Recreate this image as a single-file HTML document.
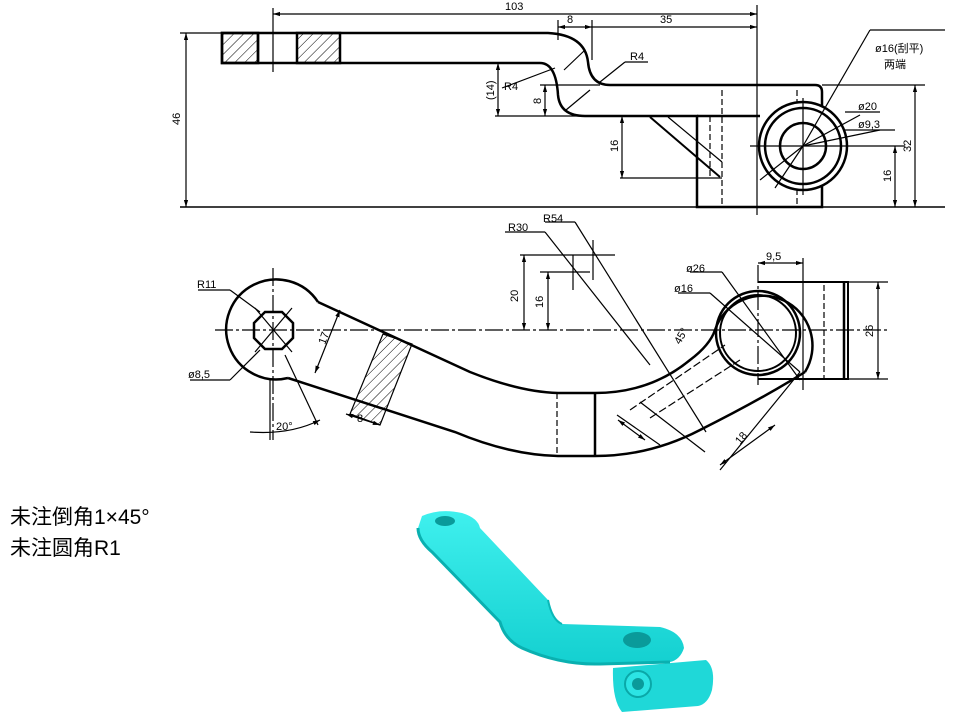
<!DOCTYPE html>
<html><head><meta charset="utf-8"><style>
html,body{margin:0;padding:0;background:#fff;width:960px;height:720px;overflow:hidden}
svg{display:block}
text{font-family:"Liberation Sans","Noto Sans CJK SC",sans-serif;fill:#000}
</style></head><body>
<svg width="960" height="720" viewBox="0 0 960 720" xmlns="http://www.w3.org/2000/svg">
<defs>
<pattern id="h" width="7" height="7" patternUnits="userSpaceOnUse" patternTransform="rotate(45)">
<line x1="0" y1="0" x2="0" y2="7" stroke="#000" stroke-width="1"/></pattern>
<marker id="a" viewBox="0 0 10 10" refX="10" refY="5" markerWidth="6" markerHeight="6" orient="auto-start-reverse"><path d="M0,2 L10,5 L0,8z" fill="#000"/></marker>
<linearGradient id="cy" x1="0" y1="0" x2="0" y2="1"><stop offset="0" stop-color="#3ff0ee"/><stop offset="1" stop-color="#14d0d0"/></linearGradient>
</defs>
<g fill="none" stroke="#000" stroke-width="1.2">
<!-- TOP VIEW -->
<rect x="222" y="33" width="36" height="30" fill="url(#h)" stroke-width="2.5"/>
<rect x="297" y="33" width="43" height="30" fill="url(#h)" stroke-width="2.5"/>
<path d="M222,33 H548 Q585,35 588,62 Q590,85 610,85 H815 Q822,85 822,92 V207 H697 V116 H585 Q560,116 558,95 Q556,63 540,63 H222 Z" stroke-width="2.5"/>
<line x1="258" y1="33" x2="258" y2="63" stroke-width="2.5"/>
<line x1="697" y1="116" x2="760" y2="116" stroke-width="2.5"/>
<line x1="650" y1="117" x2="720" y2="177" stroke-width="2"/><line x1="668" y1="117" x2="722" y2="162"/>
<line x1="710" y1="116" x2="710" y2="177" stroke-dasharray="6,3"/>
<line x1="722" y1="90" x2="722" y2="207" stroke-dasharray="6,3"/>
<line x1="797" y1="90" x2="797" y2="207" stroke-dasharray="6,3"/>
<circle cx="803" cy="146" r="44" stroke-width="2.5" fill="#fff"/>
<circle cx="803" cy="146" r="38" stroke-width="2.5"/>
<circle cx="803" cy="146" r="23" stroke-width="2.5"/>
<line x1="750" y1="146" x2="860" y2="146"/><line x1="803" y1="98" x2="803" y2="195"/>
<line x1="803" y1="146" x2="870" y2="30"/><line x1="870" y1="30" x2="945" y2="30"/>
<line x1="803" y1="146" x2="860" y2="115"/><line x1="803" y1="146" x2="880" y2="130"/>
<line x1="760" y1="180" x2="803" y2="146"/><line x1="775" y1="188" x2="803" y2="146"/>
<line x1="273" y1="8" x2="273" y2="72"/>
<line x1="757" y1="5" x2="757" y2="215"/>
<line x1="273" y1="14" x2="757" y2="14" marker-start="url(#a)" marker-end="url(#a)"/>
<line x1="558" y1="27" x2="592" y2="27" marker-start="url(#a)" marker-end="url(#a)"/>
<line x1="592" y1="27" x2="757" y2="27" marker-end="url(#a)"/>
<line x1="558" y1="20" x2="558" y2="40"/><line x1="592" y1="20" x2="592" y2="60"/>
<line x1="180" y1="33" x2="222" y2="33"/><line x1="180" y1="207" x2="945" y2="207" stroke-width="1.5"/>
<line x1="186" y1="33" x2="186" y2="207" marker-start="url(#a)" marker-end="url(#a)"/>
<line x1="495" y1="116" x2="585" y2="116"/><line x1="540" y1="85" x2="600" y2="85"/>
<line x1="498" y1="63" x2="498" y2="116" marker-start="url(#a)" marker-end="url(#a)"/>
<line x1="545" y1="85" x2="545" y2="116" marker-start="url(#a)" marker-end="url(#a)"/>
<line x1="620" y1="178" x2="722" y2="178"/>
<line x1="622" y1="116" x2="622" y2="178" marker-start="url(#a)" marker-end="url(#a)"/>
<line x1="822" y1="85" x2="925" y2="85"/>
<line x1="915" y1="85" x2="915" y2="207" marker-start="url(#a)" marker-end="url(#a)"/>
<line x1="860" y1="146" x2="905" y2="146"/>
<line x1="895" y1="146" x2="895" y2="207" marker-start="url(#a)" marker-end="url(#a)"/>
<line x1="502" y1="88" x2="555" y2="68"/><line x1="600" y1="82" x2="625" y2="62"/><line x1="625" y1="62" x2="648" y2="62"/>
<line x1="564" y1="70" x2="585" y2="50"/><line x1="566" y1="110" x2="590" y2="90"/>
<line x1="845" y1="112" x2="880" y2="112"/><line x1="845" y1="130" x2="895" y2="130"/>

<!-- FRONT VIEW -->
<line x1="215" y1="330" x2="890" y2="330" stroke-dasharray="18,3,3,3"/>
<line x1="273" y1="268" x2="273" y2="440" stroke-dasharray="18,3,3,3"/>
<line x1="758" y1="265" x2="758" y2="385" stroke-dasharray="18,3,3,3"/>
<path d="M318,302 A50,50 0 1 0 288,378" stroke-width="2.5"/>
<polygon points="265,312 282,312 293,323 293,338 282,349 265,349 254,338 254,323" stroke-width="2.5"/>
<line x1="255" y1="308" x2="292" y2="352"/><line x1="292" y1="308" x2="255" y2="352"/>
<path d="M318,302 L470,372 Q520,392 558,393 H595 Q650,393 690,360 Q710,345 715,330" stroke-width="2.5"/>
<path d="M288,378 L455,432 Q510,455 558,456 H595 Q650,456 700,430 Q760,400 805,372" stroke-width="2.5"/>
<line x1="595" y1="393" x2="595" y2="456" stroke-width="2.5"/>
<line x1="557" y1="393" x2="557" y2="456" stroke-dasharray="6,3"/>
<polygon points="383,334 412,344 380,425 350,414" fill="url(#h)"/>
<path d="M715,330 A50,50 0 1 1 805,372" stroke-width="2.5"/>
<circle cx="758" cy="333" r="42" stroke-width="2.5"/><circle cx="758" cy="333" r="38" stroke-width="2"/>
<path d="M758,282 H848 V379 H758" stroke-width="2"/>
<line x1="844" y1="282" x2="844" y2="379" stroke-width="2.5"/>
<line x1="824" y1="285" x2="824" y2="379" stroke-dasharray="6,3"/>
<line x1="803" y1="258" x2="803" y2="390"/>
<line x1="758" y1="263" x2="803" y2="263" marker-start="url(#a)" marker-end="url(#a)"/>
<line x1="848" y1="282" x2="888" y2="282"/><line x1="848" y1="379" x2="888" y2="379"/>
<line x1="878" y1="282" x2="878" y2="379" marker-start="url(#a)" marker-end="url(#a)"/>
<line x1="722" y1="272" x2="800" y2="380"/><line x1="690" y1="272" x2="722" y2="272"/>
<line x1="710" y1="293" x2="800" y2="372"/><line x1="678" y1="293" x2="710" y2="293"/>
<line x1="520" y1="255" x2="615" y2="255"/><line x1="540" y1="272" x2="590" y2="272"/>
<line x1="524" y1="255" x2="524" y2="330" marker-start="url(#a)" marker-end="url(#a)"/>
<line x1="548" y1="272" x2="548" y2="330" marker-start="url(#a)" marker-end="url(#a)"/>
<line x1="573" y1="255" x2="573" y2="290"/><line x1="593" y1="240" x2="593" y2="280"/>
<line x1="505" y1="232" x2="545" y2="232"/><line x1="545" y1="232" x2="650" y2="365"/>
<line x1="545" y1="222" x2="575" y2="222"/><line x1="575" y1="222" x2="706" y2="432"/>
<line x1="198" y1="290" x2="230" y2="290"/><line x1="230" y1="290" x2="260" y2="312"/>
<line x1="190" y1="380" x2="230" y2="380"/><line x1="230" y1="380" x2="260" y2="350"/>
<line x1="340" y1="310" x2="315" y2="373" marker-start="url(#a)" marker-end="url(#a)"/>
<line x1="285" y1="355" x2="318" y2="425"/>
<path d="M250,432 Q290,435 320,420" marker-end="url(#a)"/>
<line x1="270" y1="380" x2="270" y2="440"/>
<line x1="346" y1="414" x2="380" y2="425" marker-start="url(#a)" marker-end="url(#a)"/>
<line x1="640" y1="402" x2="705" y2="452"/><line x1="617" y1="415" x2="660" y2="445"/>
<line x1="630" y1="410" x2="725" y2="345" stroke-dasharray="8,3"/>
<line x1="650" y1="418" x2="740" y2="360" stroke-dasharray="8,3"/>
<line x1="720" y1="465" x2="775" y2="425" marker-start="url(#a)" marker-end="url(#a)"/>
<line x1="800" y1="372" x2="720" y2="470"/>
<line x1="618" y1="420" x2="645" y2="440" marker-start="url(#a)" marker-end="url(#a)"/>
</g>
<g font-size="11">
<text x="505" y="10">103</text><text x="567" y="23">8</text><text x="660" y="23">35</text>
<text x="630" y="60">R4</text><text x="504" y="90">R4</text>
<text x="875" y="52">ø16(刮平)</text><text x="884" y="68">两端</text>
<text x="858" y="110">ø20</text><text x="858" y="128">ø9,3</text>
<text x="180" y="125" transform="rotate(-90 180 125)">46</text>
<text x="494" y="100" transform="rotate(-90 494 100)">(14)</text>
<text x="541" y="104" transform="rotate(-90 541 104)">8</text>
<text x="618" y="152" transform="rotate(-90 618 152)">16</text>
<text x="911" y="152" transform="rotate(-90 911 152)">32</text>
<text x="891" y="182" transform="rotate(-90 891 182)">16</text>
<text x="508" y="231">R30</text><text x="543" y="222">R54</text>
<text x="197" y="288">R11</text><text x="188" y="378">ø8,5</text>
<text x="518" y="302" transform="rotate(-90 518 302)">20</text>
<text x="543" y="308" transform="rotate(-90 543 308)">16</text>
<text x="686" y="272">ø26</text><text x="674" y="292">ø16</text>
<text x="766" y="260">9,5</text>
<text x="873" y="337" transform="rotate(-90 873 337)">26</text>
<text x="276" y="430">20°</text><text x="357" y="422">8</text>
<text x="325" y="345" transform="rotate(-70 325 345)">17</text>
<text x="740" y="445" transform="rotate(-50 740 445)">18</text>
<text x="680" y="345" transform="rotate(-60 680 345)">45°</text>
</g>
<g font-size="21">
<text x="10" y="524">未注倒角1×45°</text>
<text x="10" y="555">未注圆角R1</text>
</g>
<!-- 3D model -->
<g>
<path d="M613,668 L706,660 Q716,668 712,690 Q708,704 698,706 L622,712 Q612,700 613,668 Z" fill="#1fd8d8"/>
<path d="M422,516 Q440,508 462,513 Q478,518 480,528 L548,600 Q552,620 562,624 L660,627 Q682,632 684,648 Q680,660 670,662 L600,664 Q560,665 522,648 Q505,640 500,622 L432,552 Q418,540 418,528 Z" fill="url(#cy)"/>
<path d="M418,528 Q418,540 432,552 L500,622 Q505,640 522,648 Q560,665 600,664 L670,662" fill="none" stroke="#0ab0b0" stroke-width="3"/>
<path d="M548,600 Q552,620 562,624" fill="none" stroke="#0ab8b8" stroke-width="2"/>
<ellipse cx="445" cy="521" rx="10" ry="5" fill="#0a9a9a"/>
<ellipse cx="637" cy="640" rx="14" ry="8" fill="#0a9a9a"/>
<ellipse cx="638" cy="684" rx="13" ry="13" fill="#2ce4e4" stroke="#0aa8a8" stroke-width="2"/>
<ellipse cx="638" cy="684" rx="6" ry="6" fill="#0a9a9a"/>
</g>
</svg>
</body></html>
